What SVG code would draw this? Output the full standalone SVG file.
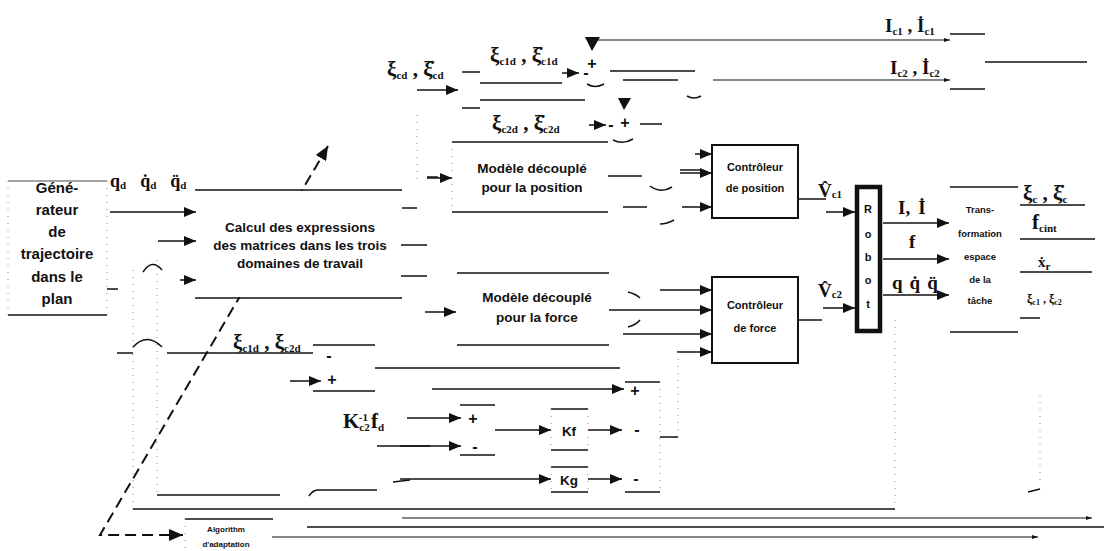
<svg xmlns="http://www.w3.org/2000/svg" width="1104" height="551" viewBox="0 0 1104 551">
<defs>
<marker id="ah" markerWidth="12" markerHeight="10" refX="12" refY="5" orient="auto" markerUnits="userSpaceOnUse"><path d="M0,0 L12,5 L0,10 z" fill="#111"/></marker>
<marker id="sa" markerWidth="6" markerHeight="4" refX="6" refY="2" orient="auto" markerUnits="userSpaceOnUse"><path d="M0,0 L6,2 L0,4 z" fill="#111"/></marker>
<marker id="dh" markerWidth="14" markerHeight="12" refX="14" refY="6" orient="auto-start-reverse" markerUnits="userSpaceOnUse"><path d="M0,0 L14,6 L0,12 z" fill="#111"/></marker>
</defs>
<style>
.ln{stroke:#111;stroke-width:1.5;fill:none}
.ar{stroke:#111;stroke-width:1.5;fill:none;marker-end:url(#ah)}
.sm{stroke:#111;stroke-width:1.2;fill:none;marker-end:url(#sa)}
.fa{stroke:#888;stroke-width:1;stroke-dasharray:1 6;fill:none}
.box{stroke:#111;stroke-width:2;fill:#fff}
.bg{fill:#fff;stroke:none}
.rob{stroke:#111;stroke-width:4.5;fill:#fff}
.dash{stroke:#111;stroke-width:2;stroke-dasharray:11 6;fill:none}
.t{font-family:"Liberation Sans",Arial,sans-serif;font-weight:bold;fill:#111;text-anchor:middle}
.s15{font-size:15px}.s13{font-size:13.5px}.s11{font-size:11px}.s9{font-size:9.5px}.s8{font-size:8px}
.sg{font-family:"Liberation Sans",Arial,sans-serif;font-weight:bold;font-size:16px;fill:#111;text-anchor:middle}
.m{font-family:"Liberation Serif","Times New Roman",serif;font-weight:bold;fill:#111;font-size:21px}
.b{font-size:11px}
.tri{fill:#111}
</style>

<g id="connecteurs">
<path class="dash" d="M328,146 L100,535 L183,535" marker-start="url(#dh)" marker-end="url(#dh)"/>
<line class="ar" x1="110" y1="212" x2="196" y2="212"/>
<line class="ar" x1="158" y1="241" x2="196" y2="241"/>
<line class="ar" x1="180" y1="280" x2="196" y2="280"/>
<path class="ln" d="M143,272 Q152,258 162,270"/>
<line class="ln" x1="107" y1="289" x2="118" y2="289"/>
<line class="fa" x1="133" y1="270" x2="133" y2="509"/>
<line class="fa" x1="157" y1="260" x2="157" y2="495"/>

<line class="ar" x1="417" y1="90" x2="458" y2="90"/>
<line class="ln" x1="462" y1="72" x2="480" y2="72"/>
<line class="ln" x1="462" y1="108" x2="480" y2="108"/>
<line class="ln" x1="480" y1="83" x2="562" y2="83"/>
<line class="ln" x1="480" y1="100" x2="585" y2="100"/>
<line class="ar" x1="562" y1="73" x2="579" y2="73"/>
<line class="ar" x1="589" y1="125" x2="606" y2="125"/>
<line class="fa" x1="417" y1="115" x2="417" y2="180"/>

<line class="sm" x1="593" y1="40" x2="950" y2="40"/>
<line class="ln" x1="610" y1="71" x2="695" y2="71"/>
<line class="ln" x1="623" y1="80" x2="678" y2="80"/>
<path class="ln" d="M687,96 Q694,100 701,96"/>
<line class="sm" x1="713" y1="80" x2="950" y2="80"/>
<line class="ln" x1="950" y1="34" x2="985" y2="34"/>
<line class="ln" x1="985" y1="62" x2="1087" y2="62"/>
<line class="ln" x1="950" y1="89" x2="985" y2="89"/>
<line class="ln" x1="640" y1="124" x2="662" y2="124"/>

<line class="ln" x1="427" y1="177" x2="438" y2="177"/>
<line class="ar" x1="427" y1="178" x2="452" y2="178"/>
<line class="ln" x1="402" y1="208" x2="417" y2="208"/>
<line class="ln" x1="400" y1="245" x2="427" y2="245"/>
<line class="ln" x1="400" y1="276" x2="427" y2="276"/>
<line class="ar" x1="425" y1="312" x2="456" y2="312"/>

<line class="ln" x1="608" y1="176" x2="642" y2="176"/>
<path class="ln" d="M650,186 Q661,194 672,187"/>
<line class="ln" x1="623" y1="207" x2="647" y2="207"/>
<path class="ln" d="M660,224 Q667,224 674,220"/>
<line class="ln" x1="680" y1="170" x2="700" y2="170"/>
<line class="ar" x1="695" y1="154" x2="712" y2="154"/>
<line class="ar" x1="680" y1="173" x2="712" y2="173"/>
<line class="ar" x1="682" y1="207" x2="712" y2="207"/>

<path class="ln" d="M628,292 Q636,294 640,298"/>
<path class="ln" d="M628,327 Q636,325 640,320"/>
<line class="ar" x1="660" y1="290" x2="712" y2="290"/>
<line class="ar" x1="609" y1="310" x2="712" y2="310"/>
<line class="ar" x1="623" y1="334" x2="712" y2="334"/>
<line class="ar" x1="677" y1="352" x2="712" y2="352"/>
<line class="fa" x1="678" y1="352" x2="678" y2="437"/>
<line class="ln" x1="660" y1="437" x2="678" y2="437"/>

<line class="ln" x1="798" y1="199" x2="826" y2="199"/>
<line class="ar" x1="826" y1="212" x2="855" y2="212"/>
<line class="ln" x1="798" y1="320" x2="822" y2="320"/>
<line class="ar" x1="823" y1="308" x2="855" y2="308"/>

<line class="ar" x1="883" y1="223" x2="949" y2="223"/>
<line class="ar" x1="883" y1="259" x2="949" y2="259"/>
<line class="ar" x1="883" y1="295" x2="949" y2="295"/>

<line class="ln" x1="1020" y1="205" x2="1085" y2="205"/>
<line class="ln" x1="1020" y1="239" x2="1095" y2="239"/>
<line class="ln" x1="1020" y1="272" x2="1092" y2="272"/>
<line class="ln" x1="1020" y1="318" x2="1040" y2="318"/>

<line class="ln" x1="117" y1="353" x2="133" y2="353"/>
<path class="ln" d="M133,347 Q147,332 162,347"/>
<line class="ln" x1="167" y1="353" x2="313" y2="353"/>
<line class="ar" x1="290" y1="381" x2="321" y2="381"/>
<line class="ln" x1="375" y1="368" x2="620" y2="368"/>

<line class="ar" x1="407" y1="418" x2="461" y2="418"/>
<line class="ln" x1="377" y1="446" x2="430" y2="446"/>
<line class="ar" x1="400" y1="446" x2="461" y2="446"/>
<line class="ar" x1="495" y1="430" x2="551" y2="430"/>
<line class="ar" x1="588" y1="430" x2="622" y2="430"/>
<line class="ar" x1="432" y1="389" x2="624" y2="389"/>
<line class="ln" x1="393" y1="482" x2="410" y2="480"/>
<line class="ar" x1="400" y1="479" x2="551" y2="479"/>
<line class="ar" x1="588" y1="479" x2="622" y2="479"/>
<line class="ln" x1="317" y1="490" x2="377" y2="490"/>
<path class="ln" d="M309,496 Q312,491 317,490"/>
<line class="ln" x1="157" y1="495" x2="280" y2="495"/>

<line class="ln" x1="133" y1="509" x2="895" y2="509"/>
<line class="sm" x1="402" y1="518" x2="1092" y2="518"/>
<line class="ln" x1="307" y1="527" x2="1104" y2="527"/>
<line class="sm" x1="272" y1="537" x2="1038" y2="537"/>
<line class="fa" x1="895" y1="320" x2="895" y2="509"/>
<line class="fa" x1="1040" y1="395" x2="1040" y2="480"/>
<line class="ln" x1="1028" y1="492" x2="1040" y2="489"/>
</g>

<g id="generateur">
<line class="ln" x1="8" y1="181" x2="107" y2="181" stroke-opacity="0.5"/>
<line class="ln" x1="8" y1="315" x2="107" y2="315"/>
<line class="fa" x1="8" y1="181" x2="8" y2="315"/>
<line class="fa" x1="107" y1="181" x2="107" y2="315"/>
<text class="t s15" x="57" y="193">Géné-</text>
<text class="t s15" x="57" y="215">rateur</text>
<text class="t s15" x="57" y="237">de</text>
<text class="t s15" x="57" y="259">trajectoire</text>
<text class="t s15" x="57" y="282">dans le</text>
<text class="t s15" x="57" y="304">plan</text>
</g>

<g id="calcul">
<rect class="bg" x="196" y="191" width="205" height="106"/>
<line class="ln" x1="195" y1="190" x2="402" y2="190"/>
<line class="ln" x1="195" y1="298" x2="402" y2="298"/>
<text class="t s13" x="300" y="232">Calcul des expressions</text>
<text class="t s13" x="300" y="250">des matrices dans les trois</text>
<text class="t s13" x="300" y="268">domaines de travail</text>
</g>

<g id="modele-position">
<line class="ln" x1="452" y1="142" x2="608" y2="142"/>
<line class="ln" x1="452" y1="212" x2="608" y2="212"/>
<line class="fa" x1="452" y1="142" x2="452" y2="212"/>
<text class="t s13" x="532" y="173">Modèle découplé</text>
<text class="t s13" x="532" y="192">pour la position</text>
</g>

<g id="modele-force">
<line class="ln" x1="457" y1="273" x2="609" y2="273"/>
<line class="ln" x1="457" y1="345" x2="609" y2="345"/>
<text class="t s13" x="537" y="302">Modèle découplé</text>
<text class="t s13" x="537" y="322">pour la force</text>
</g>

<g id="controleur-position">
<rect class="box" x="712" y="145" width="86" height="73"/>
<text class="t s11" x="755" y="171">Contrôleur</text>
<text class="t s11" x="755" y="192">de position</text>
</g>

<g id="controleur-force">
<rect class="box" x="712" y="277" width="86" height="86"/>
<text class="t s11" x="755" y="309">Contrôleur</text>
<text class="t s11" x="755" y="332">de force</text>
</g>

<g id="robot">
<rect class="rob" x="857" y="187" width="23" height="144"/>
<text class="t s11" x="868" y="213">R</text>
<text class="t s11" x="868" y="238">o</text>
<text class="t s11" x="868" y="261">b</text>
<text class="t s11" x="868" y="284">o</text>
<text class="t s11" x="868" y="308">t</text>
</g>

<g id="transformation">
<line class="ln" x1="950" y1="187" x2="1018" y2="187"/>
<line class="ln" x1="950" y1="332" x2="1018" y2="332"/>
<text class="t s9" x="980" y="213">Trans-</text>
<text class="t s9" x="980" y="237">formation</text>
<text class="t s9" x="980" y="260">espace</text>
<text class="t s9" x="980" y="283">de la</text>
<text class="t s9" x="980" y="304">tâche</text>
</g>

<g id="algorithme">
<line class="ln" x1="185" y1="519" x2="273" y2="519"/>
<line class="fa" x1="185" y1="519" x2="185" y2="551"/>
<text class="t s8" x="226" y="532">Algorithm</text>
<text class="t s8" x="226" y="547">d'adaptation</text>
</g>

<g id="gain-kf">
<line class="ln" x1="551" y1="409" x2="588" y2="409"/>
<line class="ln" x1="551" y1="450" x2="588" y2="450"/>
<line class="fa" x1="551" y1="409" x2="551" y2="450"/>
<line class="fa" x1="588" y1="409" x2="588" y2="450"/>
<text class="t s13" x="569" y="436">Kf</text>
</g>

<g id="gain-kg">
<line class="ln" x1="551" y1="467" x2="588" y2="467"/>
<line class="ln" x1="551" y1="492" x2="588" y2="492"/>
<line class="fa" x1="551" y1="467" x2="551" y2="492"/>
<line class="fa" x1="588" y1="467" x2="588" y2="492"/>
<text class="t s13" x="569" y="485">Kg</text>
</g>

<g id="sommateurs">
<polygon class="tri" points="585,37 600,37 592,51"/>
<text class="sg" x="592" y="69">+</text>
<text class="sg" x="586" y="78">-</text>
<path class="ln" d="M587,84 Q595,89 604,84"/>
<polygon class="tri" points="618,98 631,98 624,110"/>
<text class="sg" x="625" y="128">+</text>
<text class="sg" x="611" y="130">-</text>
<path class="ln" d="M613,140 Q623,145 633,139"/>
<text class="sg" x="329" y="361">-</text>
<text class="sg" x="332" y="385">+</text>
<line class="ln" x1="313" y1="345" x2="375" y2="345"/>
<line class="ln" x1="313" y1="391" x2="375" y2="391"/>
<text class="sg" x="473" y="424">+</text>
<text class="sg" x="475" y="452">-</text>
<line class="ln" x1="460" y1="405" x2="495" y2="405"/>
<line class="ln" x1="460" y1="455" x2="495" y2="455"/>
<text class="sg" x="635" y="396">+</text>
<text class="sg" x="637" y="435">-</text>
<text class="sg" x="636" y="484">-</text>
<line class="ln" x1="625" y1="382" x2="660" y2="382"/>
<line class="ln" x1="625" y1="492" x2="660" y2="492"/>
<line class="fa" x1="660" y1="382" x2="660" y2="492"/>
</g>

<g id="labels">
<text class="m" x="110" y="187" style="font-size:18px">q<tspan class="b" dy="2">d</tspan><tspan dx="14" dy="-2">q̇</tspan><tspan class="b" dy="2">d</tspan><tspan dx="14" dy="-2">q̈</tspan><tspan class="b" dy="2">d</tspan></text>
<text class="m" x="387" y="76">ξ<tspan class="b" dy="3">cd</tspan><tspan dy="-3"> , </tspan>ξ̇<tspan class="b" dy="3">cd</tspan></text>
<text class="m" x="490" y="62">ξ<tspan class="b" dy="3">c1d</tspan><tspan dy="-3"> , </tspan>ξ̇<tspan class="b" dy="3">c1d</tspan></text>
<text class="m" x="492" y="130">ξ<tspan class="b" dy="3">c2d</tspan><tspan dy="-3"> , </tspan>ξ̇<tspan class="b" dy="3">c2d</tspan></text>
<text class="m" x="885" y="32" style="font-size:19px">I<tspan class="b" dy="3">c1</tspan><tspan dy="-3"> , </tspan>İ<tspan class="b" dy="3">c1</tspan></text>
<text class="m" x="890" y="74" style="font-size:19px">I<tspan class="b" dy="3">c2</tspan><tspan dy="-3"> , </tspan>İ<tspan class="b" dy="3">c2</tspan></text>
<text class="m" x="818" y="197" style="font-size:19px">V̂<tspan class="b" dy="1">c1</tspan></text>
<text class="m" x="818" y="297" style="font-size:19px">V̂<tspan class="b" dy="1">c2</tspan></text>
<text class="m" x="898" y="214" style="font-size:19px">I,<tspan dx="8">İ</tspan></text>
<text class="m" x="909" y="248" style="font-size:19px">f</text>
<text class="m" x="892" y="289" style="font-size:19px">q<tspan dx="7">q̇</tspan><tspan dx="7">q̈</tspan></text>
<text class="m" x="1023" y="200">ξ<tspan class="b" dy="3">c</tspan><tspan dy="-3"> , </tspan>ξ̇<tspan class="b" dy="3">c</tspan></text>
<text class="m" x="1032" y="229">f<tspan class="b" dy="3">cint</tspan></text>
<text class="m" x="1038" y="267" style="font-size:15px">ẋ<tspan class="b" dy="3">r</tspan></text>
<text class="m" x="1027" y="303" style="font-size:12px">ξ<tspan style="font-size:8px" dy="2">c1</tspan><tspan dy="-2"> , </tspan>ξ<tspan style="font-size:8px" dy="2">c2</tspan></text>
<text class="m" x="233" y="349">ξ<tspan class="b" dy="3">c1d</tspan><tspan dy="-3"> , </tspan>ξ<tspan class="b" dy="3">c2d</tspan></text>
<text class="m" x="343" y="428">K<tspan class="b" dy="3">c2</tspan><tspan class="b" dx="-11" dy="-10">-1</tspan><tspan dx="3" dy="7">f</tspan><tspan class="b" dy="3">d</tspan></text>
</g>
</svg>
